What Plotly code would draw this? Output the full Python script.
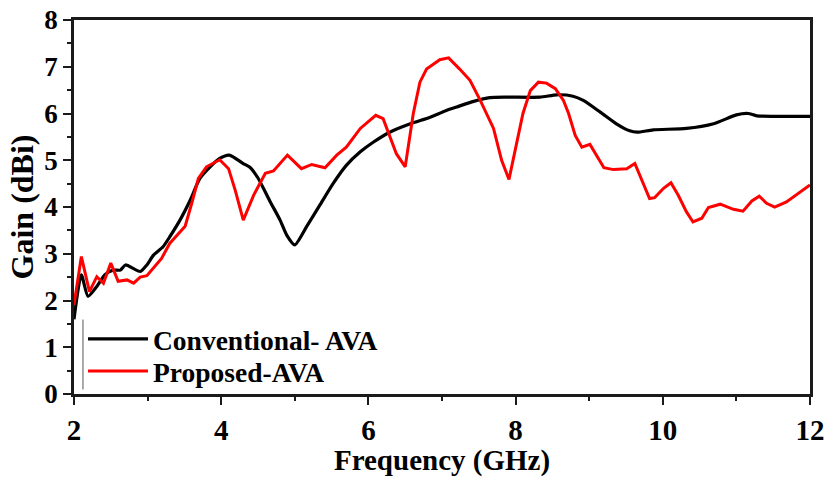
import plotly.graph_objects as go

# Conventional-AVA (black)
freq_conv = [2.00, 2.10, 2.19, 2.31, 2.42, 2.53, 2.63, 2.70, 2.90, 2.99, 3.08, 3.21, 3.30, 3.44,
             3.58, 3.71, 3.85, 3.98, 4.11, 4.30, 4.39, 4.50, 4.66, 4.80, 4.89, 5.00, 5.16, 5.34,
             5.52, 5.70, 5.89, 6.07, 6.29, 6.57, 6.84, 7.05, 7.20, 7.43, 7.65, 7.88, 8.33, 8.56,
             8.78, 8.92, 9.15, 9.37, 9.55, 9.65, 9.87, 10.32, 10.69, 11.00, 11.16, 11.28, 12.00]
gain_conv = [1.60, 2.55, 2.09, 2.30, 2.55, 2.65, 2.65, 2.76, 2.62, 2.76, 2.97, 3.15, 3.36, 3.72,
             4.15, 4.61, 4.86, 5.04, 5.11, 4.93, 4.85, 4.62, 4.13, 3.72, 3.40, 3.19, 3.58, 4.04,
             4.50, 4.89, 5.18, 5.39, 5.60, 5.78, 5.92, 6.06, 6.14, 6.26, 6.34, 6.35, 6.35, 6.40,
             6.37, 6.28, 6.03, 5.78, 5.63, 5.60, 5.65, 5.68, 5.78, 5.97, 6.00, 5.95, 5.94]

# Proposed-AVA (red)
freq_prop = [2.00, 2.10, 2.21, 2.31, 2.40, 2.50, 2.60, 2.72, 2.81, 2.90, 2.99, 3.08, 3.19, 3.30,
             3.40, 3.51, 3.60, 3.69, 3.80, 3.98, 4.10, 4.19, 4.30, 4.44, 4.60, 4.71, 4.90, 5.09,
             5.23, 5.41, 5.57, 5.70, 5.89, 6.10, 6.20, 6.38, 6.50, 6.61, 6.70, 6.79, 6.97, 7.09,
             7.24, 7.38, 7.52, 7.70, 7.81, 7.91, 8.10, 8.20, 8.31, 8.42, 8.54, 8.65, 8.72, 8.81,
             8.90, 9.01, 9.20, 9.33, 9.51, 9.62, 9.82, 9.89, 10.01, 10.11, 10.21, 10.32, 10.41,
             10.53, 10.62, 10.78, 10.96, 11.09, 11.21, 11.31, 11.41, 11.52, 11.68, 11.86, 12.00]
gain_prop = [1.91, 2.94, 2.19, 2.51, 2.37, 2.80, 2.41, 2.44, 2.37, 2.50, 2.53, 2.69, 2.90, 3.22,
             3.40, 3.59, 4.08, 4.61, 4.86, 5.01, 4.82, 4.36, 3.72, 4.25, 4.72, 4.77, 5.11, 4.82,
             4.91, 4.84, 5.11, 5.28, 5.68, 5.96, 5.89, 5.14, 4.86, 6.00, 6.67, 6.95, 7.15, 7.19,
             6.95, 6.71, 6.28, 5.68, 5.00, 4.59, 6.00, 6.49, 6.67, 6.65, 6.53, 6.28, 6.00, 5.53,
             5.28, 5.34, 4.84, 4.80, 4.82, 4.93, 4.18, 4.20, 4.40, 4.52, 4.25, 3.90, 3.68,
             3.76, 3.99, 4.06, 3.95, 3.91, 4.13, 4.23, 4.08, 4.00, 4.11, 4.32, 4.47]

series_names = ["Conventional- AVA", "Proposed-AVA"]
x_ticks = [2, 4, 6, 8, 10, 12]
y_ticks = [0, 1, 2, 3, 4, 5, 6, 7, 8]

FONT = "Liberation Serif"

fig = go.Figure()
fig.add_trace(go.Scatter(x=freq_conv, y=gain_conv, mode="lines", name=series_names[0],
                         line=dict(color="black", width=3.2, shape="spline", smoothing=0.6),
                         legend="legend"))
fig.add_trace(go.Scatter(x=freq_prop, y=gain_prop, mode="lines", name=series_names[1],
                         line=dict(color="#ff0000", width=3),
                         legend="legend2"))

axis_common = dict(
    showline=True, linecolor="#1a1a1a", linewidth=2.5, mirror=True,
    ticks="outside", ticklen=8, tickwidth=2, tickcolor="#1a1a1a",
    showgrid=False, zeroline=False, automargin=False,
)

fig.update_xaxes(
    range=[2, 12], tickvals=x_ticks, **axis_common,
    minor=dict(ticks="outside", ticklen=4, tickwidth=1.5, tickcolor="#1a1a1a", dtick=1),
    tickfont=dict(family=FONT, size=29, color="black", weight="bold"),
    title=dict(text="<b>Frequency (GHz)</b>", font=dict(family=FONT, size=29, color="black"),
               standoff=2),
)
fig.update_yaxes(
    range=[0, 8], tickvals=y_ticks, **axis_common,
    minor=dict(ticks="outside", ticklen=4, tickwidth=1.5, tickcolor="#1a1a1a", dtick=0.5),
    tickfont=dict(family=FONT, size=27, color="black", weight="bold"),
    title=dict(text="<b>Gain (dBi)</b>", font=dict(family=FONT, size=32, color="black"),
               standoff=2),
)

legend_font = dict(family=FONT, size=27.5, color="black", weight="bold")
fig.update_layout(
    width=827, height=477,
    margin=dict(l=74, r=17, t=20, b=83),
    paper_bgcolor="white", plot_bgcolor="white",
    showlegend=True,
    legend=dict(x=0.0122, y=0.147, xanchor="left", yanchor="middle",
                bgcolor="rgba(0,0,0,0)", itemwidth=60, font=legend_font),
    legend2=dict(x=0.0122, y=0.061, xanchor="left", yanchor="middle",
                 bgcolor="rgba(0,0,0,0)", itemwidth=60, font=legend_font),
    shapes=[dict(type="line", xref="paper", yref="paper", x0=0.0122, x1=0.0122,
                 y0=0.012, y1=0.199, line=dict(color="#555555", width=1))],
)

fig.write_html("out.html")
